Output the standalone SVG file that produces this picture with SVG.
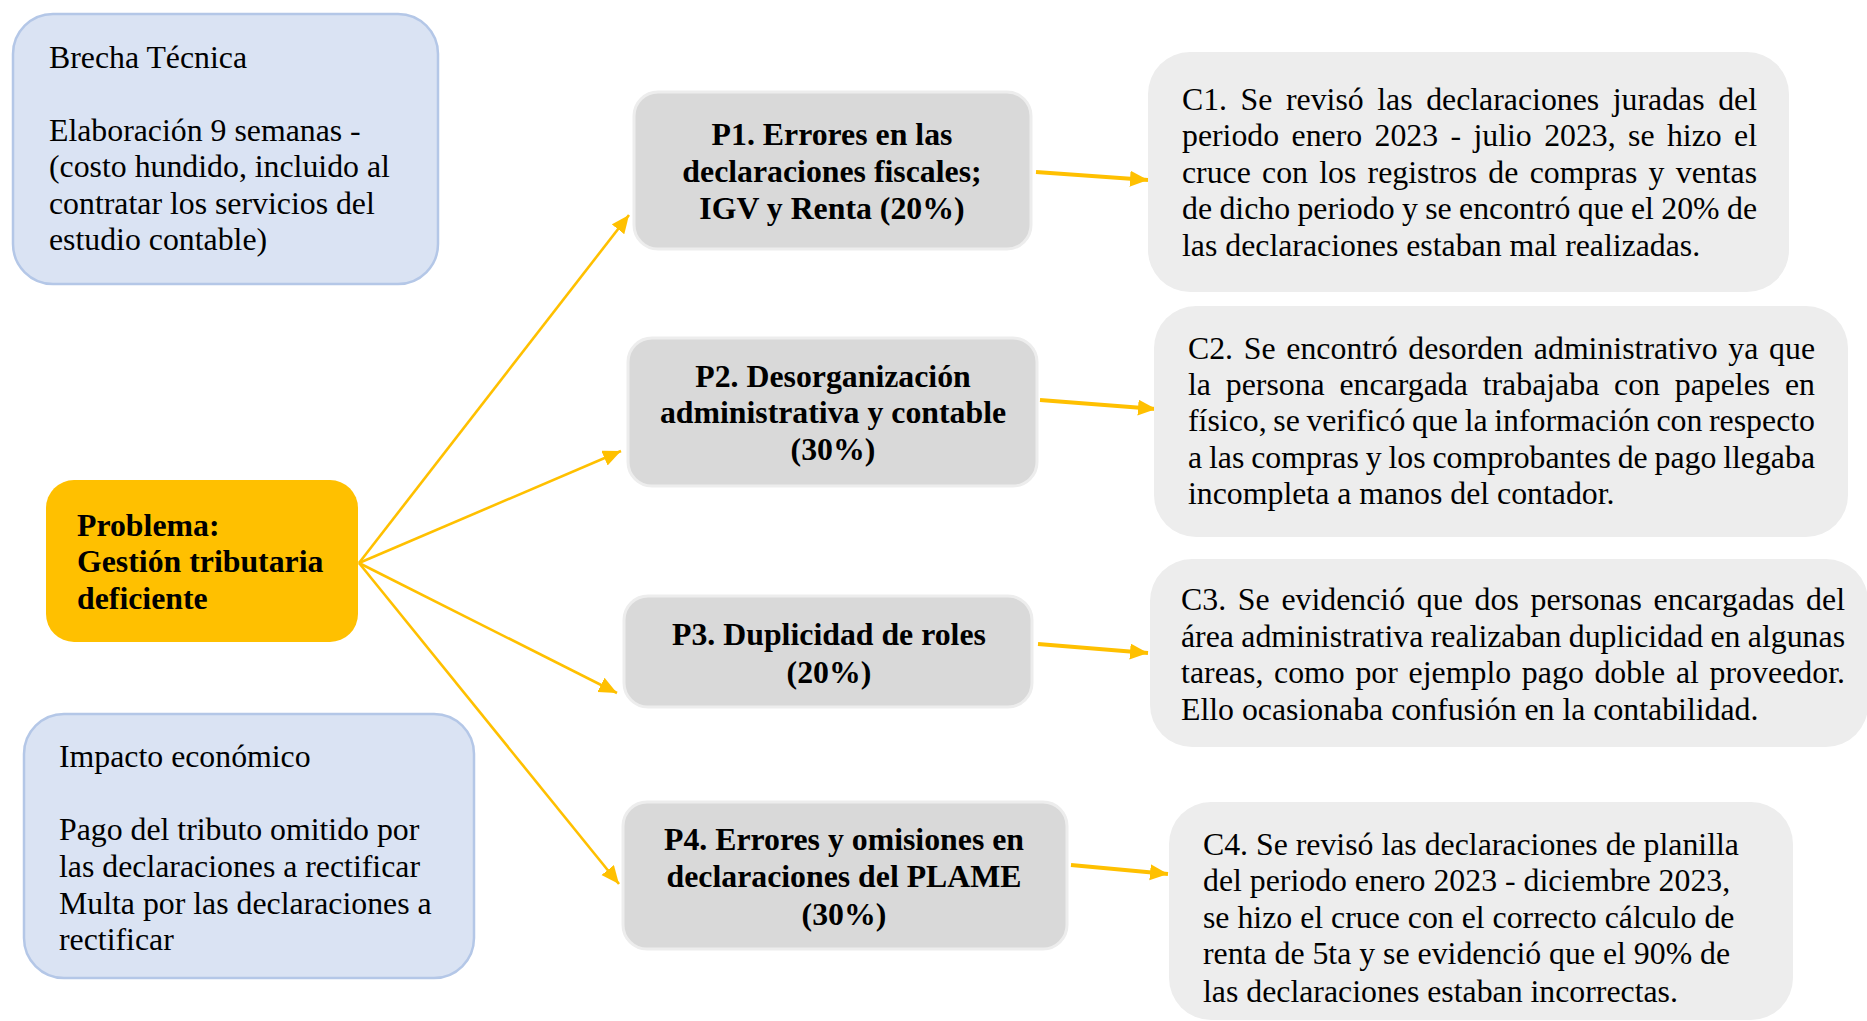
<svg xmlns="http://www.w3.org/2000/svg" width="1867" height="1021" viewBox="0 0 1867 1021">
<style>
text{font-family:"Liberation Serif","Times New Roman",serif;font-size:31.8px;fill:#000}
.b{font-weight:bold}
.m{text-anchor:middle}
.blue{fill:#DAE3F3;stroke:#B4C7E7;stroke-width:2.5}
.prob{fill:#FFC000}
.p{fill:#D9D9D9;stroke:#EDEDED;stroke-width:3}
.c{fill:#EDEDED}
.fan{stroke:#FFC000;stroke-width:2.6;fill:none}
.pc{stroke:#FFC000;stroke-width:4;fill:none}
</style>
<defs>
<marker id="ah" markerUnits="userSpaceOnUse" markerWidth="20" markerHeight="18" refX="18" refY="8" orient="auto" viewBox="0 0 20 18">
<path d="M0,0 L18,8 L0,16 z" fill="#FFC000"/>
</marker>
</defs>
<rect width="1867" height="1021" fill="#FFFFFF"/>

<g id="connectors">
<line class="fan" x1="359" y1="563" x2="629" y2="215" marker-end="url(#ah)"/>
<line class="fan" x1="359" y1="563" x2="621" y2="451" marker-end="url(#ah)"/>
<line class="fan" x1="359" y1="563" x2="617" y2="693" marker-end="url(#ah)"/>
<line class="fan" x1="359" y1="563" x2="619" y2="884" marker-end="url(#ah)"/>
<line class="pc" x1="1036" y1="172" x2="1148" y2="180" marker-end="url(#ah)"/>
<line class="pc" x1="1040" y1="400" x2="1156" y2="409" marker-end="url(#ah)"/>
<line class="pc" x1="1038" y1="644" x2="1148" y2="653" marker-end="url(#ah)"/>
<line class="pc" x1="1071" y1="865" x2="1168" y2="874" marker-end="url(#ah)"/>
</g>

<g id="brecha">
<rect class="blue" x="13" y="14" width="425" height="270" rx="40"/>
<text x="49" y="68">Brecha Técnica</text>
<text x="49" y="141">Elaboración 9 semanas -</text>
<text x="49" y="177">(costo hundido, incluido al</text>
<text x="49" y="214">contratar los servicios del</text>
<text x="49" y="250">estudio contable)</text>
</g>

<g id="problema">
<rect class="prob" x="46" y="480" width="312" height="162" rx="28"/>
<text class="b" x="77" y="536">Problema:</text>
<text class="b" x="77" y="572">Gestión tributaria</text>
<text class="b" x="77" y="609">deficiente</text>
</g>

<g id="impacto">
<rect class="blue" x="24" y="714" width="450" height="264" rx="40"/>
<text x="59" y="767">Impacto económico</text>
<text x="59" y="840">Pago del tributo omitido por</text>
<text x="59" y="877">las declaraciones a rectificar</text>
<text x="59" y="914">Multa por las declaraciones a</text>
<text x="59" y="950">rectificar</text>
</g>

<g id="p1">
<rect class="p" x="634" y="92" width="397" height="157" rx="24"/>
<text class="b m" x="832" y="145">P1. Errores en las</text>
<text class="b m" x="832" y="182">declaraciones fiscales;</text>
<text class="b m" x="832" y="219">IGV y Renta (20%)</text>
</g>

<g id="p2">
<rect class="p" x="628" y="338" width="409" height="148" rx="24"/>
<text class="b m" x="833" y="387">P2. Desorganización</text>
<text class="b m" x="833" y="423">administrativa y contable</text>
<text class="b m" x="833" y="460">(30%)</text>
</g>

<g id="p3">
<rect class="p" x="624" y="596" width="408" height="111" rx="24"/>
<text class="b m" x="829" y="645">P3. Duplicidad de roles</text>
<text class="b m" x="829" y="683">(20%)</text>
</g>

<g id="p4">
<rect class="p" x="623" y="802" width="444" height="147" rx="24"/>
<text class="b m" x="844" y="850">P4. Errores y omisiones en</text>
<text class="b m" x="844" y="887">declaraciones del PLAME</text>
<text class="b m" x="844" y="925">(30%)</text>
</g>

<g id="c1">
<rect class="c" x="1148" y="52" width="641" height="240" rx="42"/>
<text x="1182" y="110" word-spacing="5.6" textLength="575" lengthAdjust="spacing">C1. Se revisó las declaraciones juradas del</text>
<text x="1182" y="146" word-spacing="4.4" textLength="575" lengthAdjust="spacing">periodo enero 2023 - julio 2023, se hizo el</text>
<text x="1182" y="183" word-spacing="3.3" textLength="575" lengthAdjust="spacing">cruce con los registros de compras y ventas</text>
<text x="1182" y="219" word-spacing="-0.6" textLength="575" lengthAdjust="spacing">de dicho periodo y se encontró que el 20% de</text>
<text x="1182" y="256">las declaraciones estaban mal realizadas.</text>
</g>

<g id="c2">
<rect class="c" x="1154" y="306" width="694" height="231" rx="42"/>
<text x="1188" y="359" word-spacing="2.8" textLength="627" lengthAdjust="spacing">C2. Se encontró desorden administrativo ya que</text>
<text x="1188" y="395" word-spacing="6.8" textLength="627" lengthAdjust="spacing">la persona encargada trabajaba con papeles en</text>
<text x="1188" y="431" word-spacing="-1.3" textLength="627" lengthAdjust="spacing">físico, se verificó que la información con respecto</text>
<text x="1188" y="468" word-spacing="-1.1" textLength="627" lengthAdjust="spacing">a las compras y los comprobantes de pago llegaba</text>
<text x="1188" y="504">incompleta a manos del contador.</text>
</g>

<g id="c3">
<rect class="c" x="1150" y="559" width="718" height="188" rx="42"/>
<text x="1181" y="610" word-spacing="3.8" textLength="664" lengthAdjust="spacing">C3. Se evidenció que dos personas encargadas del</text>
<text x="1181" y="647" word-spacing="-0.6" textLength="664" lengthAdjust="spacing">área administrativa realizaban duplicidad en algunas</text>
<text x="1181" y="683" word-spacing="2.6" textLength="664" lengthAdjust="spacing">tareas, como por ejemplo pago doble al proveedor.</text>
<text x="1181" y="720">Ello ocasionaba confusión en la contabilidad.</text>
</g>

<g id="c4">
<rect class="c" x="1169" y="802" width="624" height="218" rx="42"/>
<text x="1203" y="855">C4. Se revisó las declaraciones de planilla</text>
<text x="1203" y="891">del periodo enero 2023 - diciembre 2023,</text>
<text x="1203" y="928">se hizo el cruce con el correcto cálculo de</text>
<text x="1203" y="964">renta de 5ta y se evidenció que el 90% de</text>
<text x="1203" y="1002">las declaraciones estaban incorrectas.</text>
</g>
</svg>
